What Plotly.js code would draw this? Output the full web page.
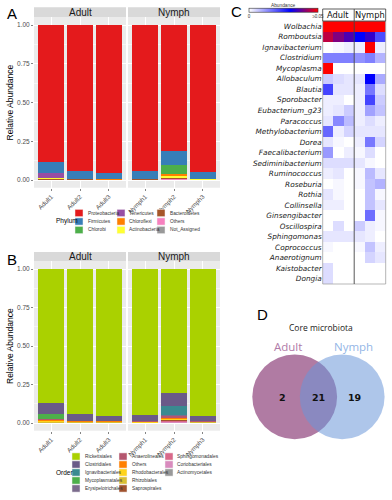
<!DOCTYPE html>
<html><head><meta charset="utf-8">
<script src="https://cdn.plot.ly/plotly-3.0.1.min.js"></script>
<style>html,body{margin:0;padding:0;background:#fff}</style>
</head><body><div id="chart" style="width:392px;height:500px"></div>
<script>
// ---------- DATA ----------
const adultSamples = ['Adult1','Adult2','Adult3'];
const nymphSamples = ['Nymph1','Nymph2','Nymph3'];
const stageNames = ['Adult','Nymph'];

// Panel A : phylum relative abundance, order [Adult1,Adult2,Adult3,Nymph1,Nymph2,Nymph3]
const phylumNames = ['Proteobacteria','Firmicutes','Chlorobi','Tenericutes','Chloroflexi','Actinobacteria','Bacteroidetes','Others','Not_Assigned'];
const phylumColors = ['#E41A1C','#377EB8','#4DAF4A','#984EA3','#FF7F00','#FFFF33','#A65628','#F781BF','#999999'];
const proteobacteria = [0.882,0.944,0.956,0.944,0.811,0.951];
const firmicutes     = [0.075,0.049,0.039,0.048,0.092,0.042];
const chlorobi       = [0.001,0.000,0.000,0.001,0.060,0.001];
const tenericutes    = [0.027,0.001,0.001,0.000,0.001,0.000];
const chloroflexi    = [0.005,0.001,0.001,0.002,0.012,0.002];
const actinobacteria = [0.001,0.001,0.001,0.001,0.010,0.001];
const bacteroidetes  = [0.006,0.002,0.001,0.002,0.008,0.001];
const othersPhylum   = [0.002,0.001,0.001,0.001,0.004,0.001];
const notAssigned    = [0.001,0.001,0.000,0.001,0.002,0.001];
const phylumValues = [proteobacteria,firmicutes,chlorobi,tenericutes,chloroflexi,actinobacteria,bacteroidetes,othersPhylum,notAssigned];

// Panel B : order relative abundance
const orderNames = ['Rickettsiales','Clostridiales','Ignavibacteriales','Mycoplasmatales','Erysipelotrichales','Anaerolineales','Others','Rhodobacterales','Rhizobiales','Saprospirales','Sphingomonadales','Coriobacteriales','Actinomycetales'];
const orderColors = ['#AAD100','#6A5A88','#3A8A90','#4DAF4A','#7B6B8C','#B5566E','#FF7F00','#FFD31A','#D9BF33','#A0522D','#D9698A','#D98BBE','#999999'];
const rickettsiales      = [0.870,0.942,0.953,0.946,0.808,0.955];
const clostridiales      = [0.070,0.043,0.032,0.042,0.082,0.033];
const ignavibacteriales  = [0.001,0.000,0.000,0.001,0.058,0.001];
const mycoplasmatales    = [0.034,0.001,0.001,0.000,0.001,0.000];
const erysipelotrichales = [0.002,0.001,0.001,0.001,0.005,0.001];
const anaerolineales     = [0.003,0.001,0.001,0.001,0.012,0.001];
const othersOrder        = [0.008,0.004,0.004,0.004,0.008,0.003];
const rhodobacterales    = [0.006,0.004,0.004,0.002,0.004,0.002];
const rhizobiales        = [0.003,0.002,0.002,0.001,0.003,0.001];
const saprospirales      = [0.001,0.001,0.001,0.001,0.005,0.001];
const sphingomonadales   = [0.001,0.001,0.001,0.001,0.006,0.001];
const coriobacteriales   = [0.001,0.000,0.000,0.000,0.006,0.001];
const actinomycetales    = [0.000,0.000,0.000,0.000,0.002,0.000];
const orderValues = [rickettsiales,clostridiales,ignavibacteriales,mycoplasmatales,erysipelotrichales,anaerolineales,othersOrder,rhodobacterales,rhizobiales,saprospirales,sphingomonadales,coriobacteriales,actinomycetales];

// Panel C : genus abundance heatmap
const genera = ['Wolbachia','Romboutsia','Ignavibacterium','Clostridium','Mycoplasma','Allobaculum','Blautia','Sporobacter','Eubacterium_g23','Paracoccus','Methylobacterium','Dorea','Faecalibacterium','Sediminibacterium','Ruminococcus','Roseburia','Rothia','Collinsella','Ginsengibacter','Oscillospira','Sphingomonas','Coprococcus','Anaerotignum','Kaistobacter','Dongia'];
const heatAdult1 = [0.86,0.045,0.000,0.015,0.060,0.006,0.022,0.002,0.002,0.003,0.018,0.003,0.012,0.004,0.002,0.000,0.003,0.002,0.000,0.000,0.003,0.001,0.000,0.004,0.004];
const heatAdult2 = [0.93,0.040,0.001,0.015,0.000,0.004,0.003,0.002,0.003,0.014,0.002,0.001,0.000,0.004,0.003,0.001,0.001,0.002,0.000,0.004,0.003,0.000,0.000,0.000,0.000];
const heatAdult3 = [0.95,0.036,0.002,0.015,0.000,0.003,0.003,0.000,0.006,0.008,0.005,0.000,0.002,0.004,0.000,0.000,0.000,0.000,0.000,0.000,0.003,0.000,0.000,0.000,0.000];
const heatNymph1 = [0.94,0.030,0.002,0.013,0.000,0.003,0.002,0.002,0.002,0.002,0.003,0.002,0.001,0.003,0.001,0.001,0.000,0.000,0.000,0.006,0.003,0.001,0.000,0.000,0.000];
const heatNymph2 = [0.80,0.034,0.060,0.015,0.000,0.030,0.016,0.022,0.011,0.004,0.003,0.016,0.004,0.001,0.008,0.007,0.007,0.007,0.017,0.002,0.002,0.007,0.005,0.000,0.000];
const heatNymph3 = [0.95,0.021,0.002,0.009,0.000,0.010,0.004,0.006,0.007,0.002,0.003,0.005,0.000,0.000,0.003,0.009,0.001,0.003,0.001,0.001,0.000,0.002,0.003,0.000,0.000];
const heatSamples = adultSamples.concat(nymphSamples);
const heatColumns = [heatAdult1,heatAdult2,heatAdult3,heatNymph1,heatNymph2,heatNymph3];

// Panel D : core microbiota Venn counts [Adult only, shared, Nymph only]
const vennSets = ['Adult','Nymph'];
const vennCounts = [2,21,19];

// ---------- HELPERS ----------
const W = 392, H = 500;
const px = x => x / W;
const py = y => (H - y) / H;
const ggFont = 'Liberation Sans, Arial, sans-serif';
const traces = [];
const shapes = [];
const annotations = [];

function addStack(names, colors, values, xa1, xa2, ya) {
  for (let i = names.length - 1; i >= 0; i--) {
    const v = values[i];
    traces.push({type:'bar', x:adultSamples, y:v.slice(0,3), xaxis:xa1, yaxis:ya,
      marker:{color:colors[i], line:{width:0}}, name:names[i], showlegend:false, hoverinfo:'skip'});
    traces.push({type:'bar', x:nymphSamples, y:v.slice(3,6), xaxis:xa2, yaxis:ya,
      marker:{color:colors[i], line:{width:0}}, name:names[i], showlegend:false, hoverinfo:'skip'});
  }
}
addStack(phylumNames, phylumColors, phylumValues, 'x', 'x2', 'y');
addStack(orderNames, orderColors, orderValues, 'x3', 'x4', 'y2');

traces.push({type:'heatmap', x:heatSamples, y:genera, xaxis:'x5', yaxis:'y3',
  z: genera.map((g,i) => heatColumns.map(c => c[i])),
  zmin:0, zmax:0.05,
  colorscale:[[0,'#FFFFFF'],[0.6,'#0000FF'],[1,'#FF0000']],
  hoverinfo:'skip',
  colorbar:{orientation:'h', x:px(283.5), xanchor:'center', y:py(12.7), yanchor:'middle',
    len:69/W, lenmode:'fraction', thickness:4, outlinewidth:0.6, outlinecolor:'#333',
    tickvals:[0,0.05], ticktext:['0','\u22650.05'], ticks:'', ticklabelposition:'outside top',
    tickfont:{size:4.5, color:'#333', family:ggFont}, xpad:0, ypad:0}
});

// bar panel axes
function catAxis(domain, anchor, cats) {
  return {domain:domain, anchor:anchor, type:'category', categoryarray:cats, range:[-0.6,2.6],
    showgrid:true, gridcolor:'#FFFFFF', gridwidth:1, zeroline:false, showline:false,
    ticks:'outside', ticklen:2, tickwidth:0.6, tickcolor:'#333',
    tickangle:-45, tickfont:{size:6.3, color:'#4D4D4D', family:ggFont}, fixedrange:true};
}
function valAxis(domain, anchor) {
  return {domain:domain, anchor:anchor, range:[-0.05,1.05], tickmode:'array',
    tickvals:[0,0.25,0.5,0.75,1], ticktext:['0.00','0.25','0.50','0.75','1.00'],
    showgrid:true, gridcolor:'#FFFFFF', gridwidth:1, zeroline:false, showline:false,
    minor:{tickvals:[0.125,0.375,0.625,0.875], showgrid:true, gridcolor:'#FFFFFF', gridwidth:0.5, ticks:''},
    ticks:'outside', ticklen:2, tickwidth:0.6, tickcolor:'#333',
    tickfont:{size:6.5, color:'#4D4D4D', family:ggFont}, fixedrange:true};
}

// strips + panel text for A & B
function addPanelDecor(stripTop, stripBot, centerY, letter, letterY, legendTitle, legendNames, legendColors, rows, colSw, colTx, rowY, titleX) {
  const stripX = [[34,126],[128,220]];
  stripX.forEach((sx, k) => {
    shapes.push({type:'rect', xref:'paper', yref:'paper', x0:px(sx[0]), x1:px(sx[1]), y0:py(stripBot), y1:py(stripTop),
      fillcolor:'#D9D9D9', line:{width:0}, layer:'below'});
    annotations.push({xref:'paper', yref:'paper', x:px((sx[0]+sx[1])/2), y:py((stripTop+stripBot)/2),
      text:stageNames[k], showarrow:false, font:{size:10, color:'#1A1A1A', family:ggFont}, xanchor:'center', yanchor:'middle'});
  });
  annotations.push({xref:'paper', yref:'paper', x:px(10), y:py(centerY), text:'Relative Abundance', textangle:-90,
    showarrow:false, font:{size:8.5, color:'#000', family:ggFont}, xanchor:'center', yanchor:'middle'});
  annotations.push({xref:'paper', yref:'paper', x:px(5), y:py(letterY), text:letter, showarrow:false,
    font:{size:15, color:'#000', family:ggFont}, xanchor:'left', yanchor:'middle'});
  // legend
  const midRow = rowY[Math.floor((rows-1)/2)];
  annotations.push({xref:'paper', yref:'paper', x:px(titleX), y:py(rows % 2 ? midRow : (rowY[0]+rowY[rows-1])/2), text:legendTitle, showarrow:false,
    font:{size:6.5, color:'#000', family:ggFont}, xanchor:'left', yanchor:'middle'});
  legendNames.forEach((n, i) => {
    const c = Math.floor(i / rows), r = i % rows;
    const yc = rowY[r];
    shapes.push({type:'rect', xref:'paper', yref:'paper', x0:px(colSw[c]), x1:px(colSw[c]+8), y0:py(yc+3.6), y1:py(yc-3.6),
      fillcolor:legendColors[i], line:{width:0.5, color:'#F2F2F2'}});
    annotations.push({xref:'paper', yref:'paper', x:px(colTx[c]), y:py(yc), text:n, showarrow:false,
      font:{size:4.8, color:'#333', family:ggFont}, xanchor:'left', yanchor:'middle'});
  });
}
addPanelDecor(7.3, 17.25, 102.5, 'A', 13, 'Phylum', phylumNames, phylumColors, 3,
  [75,117,157], [86,127,168], [213,221.5,230], 54);
addPanelDecor(252, 261.3, 346, 'B', 259, 'Order', orderNames, orderColors, 5,
  [72,119,165], [83,130,175], [456.5,464.5,472.5,480.5,488.5], 54);

// Panel C decor
const hx0 = 322.7, hx1 = 385.7, hmid = 354.2, hTop = 9, hHead = 21, hBot = 284;
shapes.push({type:'rect', xref:'paper', yref:'paper', x0:px(hx0), x1:px(hx1), y0:py(hBot), y1:py(hHead), line:{width:0.7, color:'#999'}, fillcolor:'rgba(0,0,0,0)'});
shapes.push({type:'rect', xref:'paper', yref:'paper', x0:px(hx0), x1:px(hx1), y0:py(hHead), y1:py(hTop), line:{width:0.8, color:'#333'}, fillcolor:'#FFFFFF'});
shapes.push({type:'line', xref:'paper', yref:'paper', x0:px(hmid), x1:px(hmid), y0:py(hBot), y1:py(hTop), line:{width:0.9, color:'#444'}});
stageNames.forEach((s, k) => {
  const cx = k === 0 ? (hx0 + hmid) / 2 : (hmid + hx1) / 2;
  annotations.push({xref:'paper', yref:'paper', x:px(cx), y:py(15.3), text:s, showarrow:false,
    font:{size:8.3, color:'#111', family:'DejaVu Sans, sans-serif'}, xanchor:'center', yanchor:'middle'});
});
annotations.push({xref:'paper', yref:'paper', x:px(283), y:py(5.6), text:'Abundance', showarrow:false,
  font:{size:4.8, color:'#333', family:ggFont}, xanchor:'center', yanchor:'middle'});
annotations.push({xref:'paper', yref:'paper', x:px(229), y:py(11), text:'C', showarrow:false,
  font:{size:15, color:'#000', family:ggFont}, xanchor:'left', yanchor:'middle'});

// Panel D : Venn
const adultC = {x:294.7, y:396.8}, nymphC = {x:342.2, y:396.8}, vr = 42.4;
shapes.push({type:'circle', xref:'paper', yref:'paper', x0:px(adultC.x-vr), x1:px(adultC.x+vr), y0:py(adultC.y+vr), y1:py(adultC.y-vr),
  fillcolor:'rgb(176,123,163)', opacity:1, line:{width:0}});
shapes.push({type:'circle', xref:'paper', yref:'paper', x0:px(nymphC.x-vr), x1:px(nymphC.x+vr), y0:py(nymphC.y+vr), y1:py(nymphC.y-vr),
  fillcolor:'rgb(105,149,216)', opacity:0.54, line:{width:0}});
annotations.push({xref:'paper', yref:'paper', x:px(255), y:py(314), text:'D', showarrow:false,
  font:{size:15, color:'#000', family:ggFont}, xanchor:'left', yanchor:'middle'});
annotations.push({xref:'paper', yref:'paper', x:px(320.5), y:py(327.5), text:'Core microbiota', showarrow:false,
  font:{size:8.5, color:'#222', family:'Open Sans, sans-serif'}, xanchor:'center', yanchor:'middle'});
annotations.push({xref:'paper', yref:'paper', x:px(287.5), y:py(346.5), text:vennSets[0], showarrow:false,
  font:{size:11.5, color:'#B07AA8', family:'Open Sans, sans-serif'}, xanchor:'center', yanchor:'middle'});
annotations.push({xref:'paper', yref:'paper', x:px(353), y:py(346.5), text:vennSets[1], showarrow:false,
  font:{size:11.5, color:'#94B6E6', family:'Open Sans, sans-serif'}, xanchor:'center', yanchor:'middle'});
const vennX = [282, 318.3, 354.3];
vennCounts.forEach((n, i) => annotations.push({xref:'paper', yref:'paper', x:px(vennX[i]), y:py(397), text:'<b>'+n+'</b>', showarrow:false,
  font:{size:9.5, color:'#111', family:'DejaVu Sans, sans-serif'}, xanchor:'center', yanchor:'middle'}));

const layout = {
  width:W, height:H, margin:{l:0, r:0, t:0, b:0},
  paper_bgcolor:'#FFFFFF', plot_bgcolor:'#EBEBEB',
  barmode:'stack', bargap:0.1, showlegend:false,
  xaxis: catAxis([px(34),px(126)], 'y', adultSamples),
  xaxis2: catAxis([px(128),px(220)], 'y', nymphSamples),
  yaxis: valAxis([py(187.75),py(17.25)], 'x'),
  xaxis3: catAxis([px(34),px(126)], 'y2', adultSamples),
  xaxis4: catAxis([px(128),px(220)], 'y2', nymphSamples),
  yaxis2: valAxis([py(430.7),py(261.3)], 'x3'),
  xaxis5: {domain:[px(hx0),px(hx1)], anchor:'y3', type:'category', showticklabels:false, ticks:'', showgrid:false, zeroline:false, showline:false, fixedrange:true},
  yaxis3: {domain:[py(hBot),py(hHead)], anchor:'x5', type:'category', autorange:'reversed', ticks:'', showgrid:false, zeroline:false, showline:false,
    tickfont:{size:7.3, color:'#1A1A1A', family:'DejaVu Sans, sans-serif', style:'italic'}, fixedrange:true},
  shapes:shapes, annotations:annotations
};
Plotly.newPlot('chart', traces, layout, {staticPlot:true, displayModeBar:false});
</script>
</body></html>
